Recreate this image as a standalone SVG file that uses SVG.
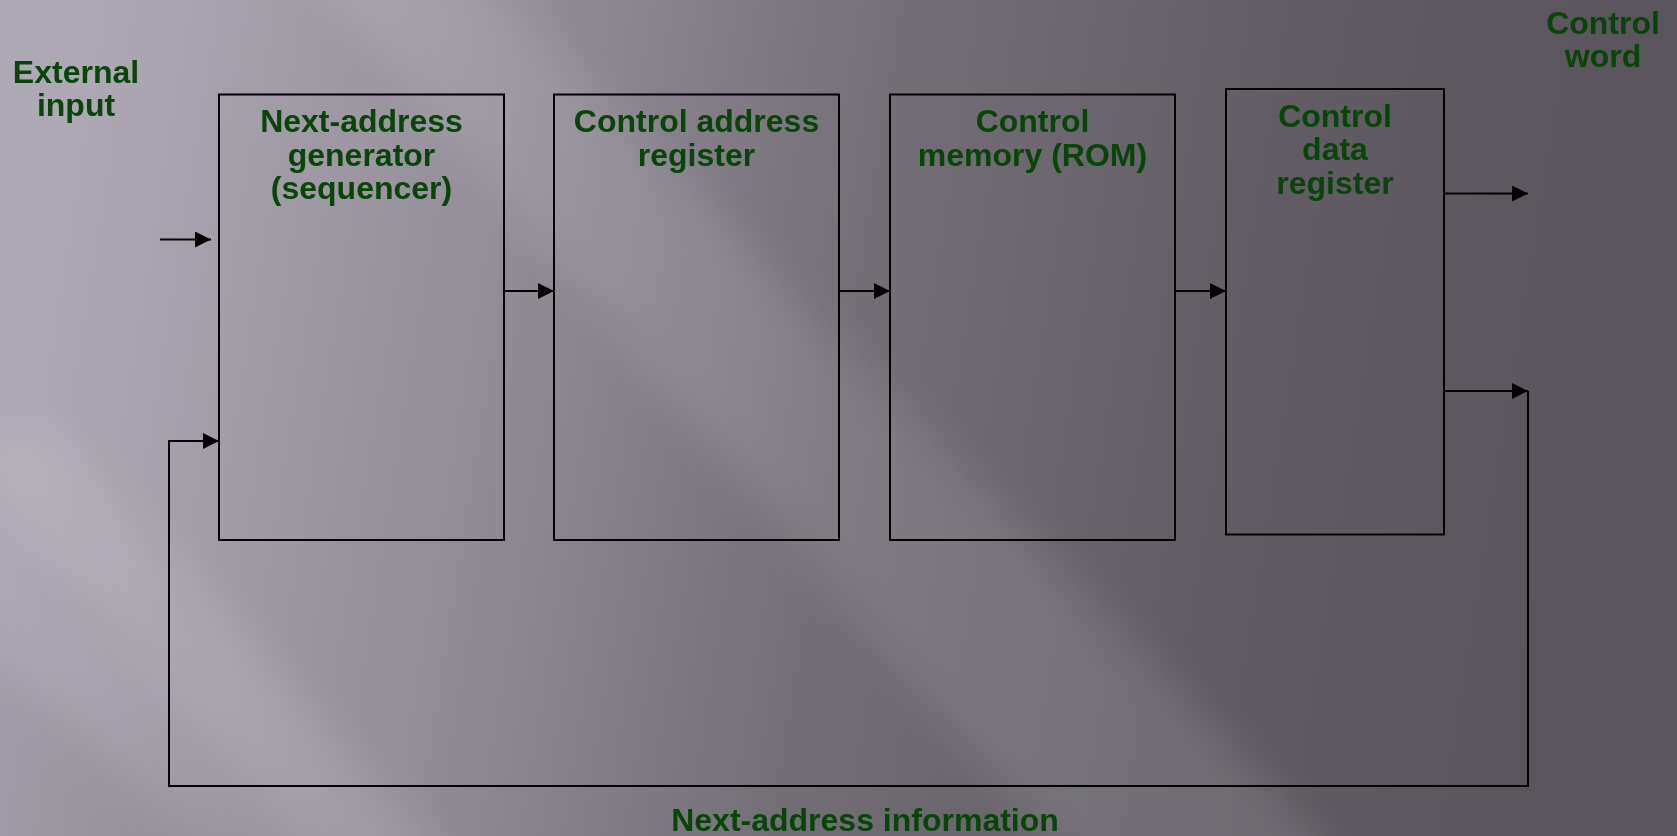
<svg xmlns="http://www.w3.org/2000/svg" width="1677" height="836" viewBox="0 0 1677 836">
  <defs>
    <linearGradient id="bg" gradientUnits="userSpaceOnUse" x1="60" y1="280" x2="1560" y2="520">
      <stop offset="0" stop-color="#aea8b4"/>
      <stop offset="0.28" stop-color="#938d98"/>
      <stop offset="0.52" stop-color="#746e77"/>
      <stop offset="0.78" stop-color="#625d65"/>
      <stop offset="1" stop-color="#5a555c"/>
    </linearGradient>
    <filter id="soft" x="-20%" y="-20%" width="140%" height="140%">
      <feGaussianBlur stdDeviation="22"/>
    </filter>
    <marker id="arrow" viewBox="0 0 16 16" refX="16" refY="8" markerWidth="16" markerHeight="16" markerUnits="userSpaceOnUse" orient="auto">
      <path d="M0,0 L16,8 L0,16 Z" fill="#000"/>
    </marker>
    <style>
      .box { fill: none; stroke: #000; stroke-width: 2; }
      .wire { fill: none; stroke: #000; stroke-width: 2; }
      .label { font-family: "Liberation Sans", Arial, sans-serif; font-weight: bold; font-size: 32px; fill: #084508; text-anchor: middle; }
    </style>
  </defs>

  <!-- backdrop with soft diagonal sheen -->
  <g id="background">
    <rect x="0" y="0" width="1677" height="836" fill="url(#bg)"/>
    <g filter="url(#soft)">
      <!-- long light band running down to the right -->
      <polygon points="300,-40 470,-40 1360,880 1080,880" fill="#ffffff" opacity="0.10"/>
      <!-- lower-left streak -->
      <polygon points="-60,430 60,430 470,880 330,880" fill="#ffffff" opacity="0.10"/>
      <!-- slight shade in the lower-left corner -->
      <polygon points="-60,600 -60,900 260,900" fill="#000000" opacity="0.07"/>
    </g>
  </g>

  <!-- connectors -->
  <g id="connectors">
    <line class="wire" x1="160" y1="239.5" x2="211" y2="239.5" marker-end="url(#arrow)"/>
    <line class="wire" x1="504" y1="291" x2="554" y2="291" marker-end="url(#arrow)"/>
    <line class="wire" x1="839" y1="291" x2="890" y2="291" marker-end="url(#arrow)"/>
    <line class="wire" x1="1175" y1="291" x2="1226" y2="291" marker-end="url(#arrow)"/>
    <line class="wire" x1="1444" y1="193.5" x2="1528" y2="193.5" marker-end="url(#arrow)"/>
    <line class="wire" x1="1444" y1="391" x2="1528" y2="391" marker-end="url(#arrow)"/>
    <polyline class="wire" points="1528,391 1528,786 169,786 169,441 219,441" marker-end="url(#arrow)"/>
  </g>

  <!-- free-standing labels -->
  <g id="external-input">
    <text class="label" x="76" y="83">External</text>
    <text class="label" x="76" y="116">input</text>
  </g>
  <g id="control-word">
    <text class="label" x="1603" y="33.5">Control</text>
    <text class="label" x="1603" y="67">word</text>
  </g>
  <g id="next-address-information">
    <text class="label" x="865" y="831">Next-address information</text>
  </g>

  <!-- blocks -->
  <g id="next-address-generator">
    <rect class="box" x="219" y="94.5" width="285" height="445.5"/>
    <text class="label" x="361.5" y="132">Next-address</text>
    <text class="label" x="361.5" y="165.5">generator</text>
    <text class="label" x="361.5" y="199">(sequencer)</text>
  </g>
  <g id="control-address-register">
    <rect class="box" x="554" y="94.5" width="285" height="445.5"/>
    <text class="label" x="696.5" y="132">Control address</text>
    <text class="label" x="696.5" y="165.5">register</text>
  </g>
  <g id="control-memory">
    <rect class="box" x="890" y="94.5" width="285" height="445.5"/>
    <text class="label" x="1032.5" y="132">Control</text>
    <text class="label" x="1032.5" y="165.5">memory (ROM)</text>
  </g>
  <g id="control-data-register">
    <rect class="box" x="1226" y="89" width="218" height="445.5"/>
    <text class="label" x="1335" y="126.5">Control</text>
    <text class="label" x="1335" y="160">data</text>
    <text class="label" x="1335" y="193.5">register</text>
  </g>
</svg>
